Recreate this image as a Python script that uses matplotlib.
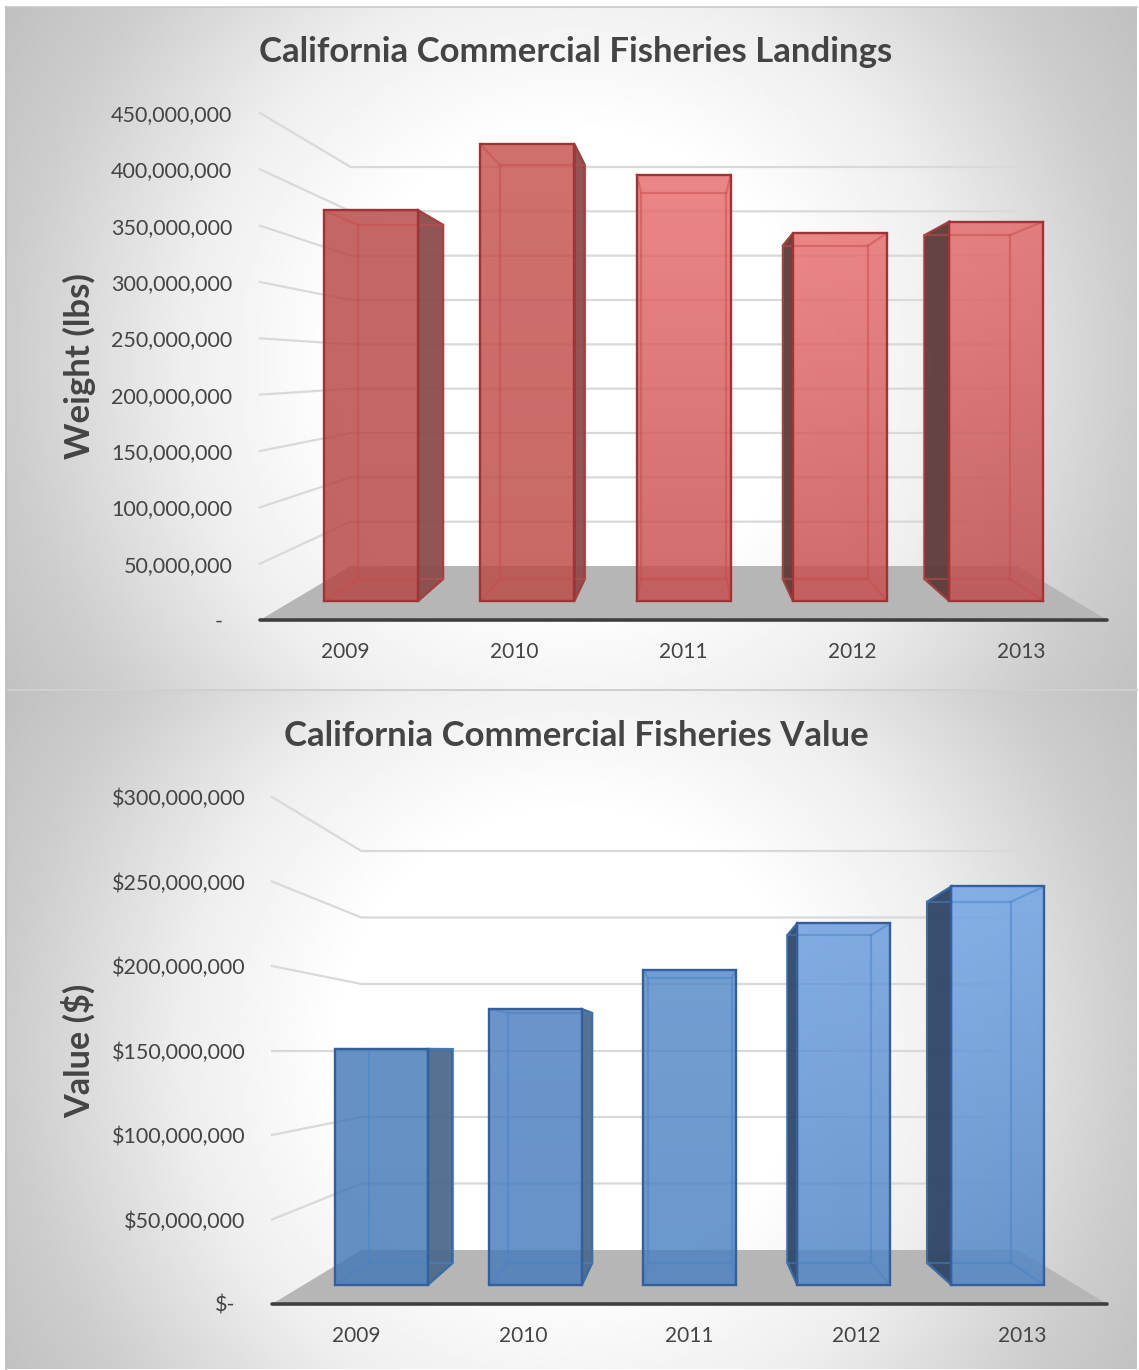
import numpy as np
import matplotlib
matplotlib.use("Agg")
import matplotlib.pyplot as plt
from matplotlib.patches import Polygon
from matplotlib.colors import LinearSegmentedColormap
from matplotlib.transforms import Affine2D

plt.rcParams["font.family"] = ["Lato", "DejaVu Sans"]

# ---- data ----
years = ["2009", "2010", "2011", "2012", "2013"]
landings_lbs = [375e6, 438.5e6, 409e6, 353e6, 364e6]
value_usd = [151e6, 176.5e6, 201.5e6, 231.5e6, 255e6]
landings_ticks = list(range(0, 450_000_001, 50_000_000))
value_ticks = list(range(0, 300_000_001, 50_000_000))
landings_tick_labels = ["-", "50,000,000", "100,000,000", "150,000,000", "200,000,000",
                        "250,000,000", "300,000,000", "350,000,000", "400,000,000", "450,000,000"]
value_tick_labels = ["$-", "$50,000,000", "$100,000,000", "$150,000,000",
                     "$200,000,000", "$250,000,000", "$300,000,000"]

W, H = 1139, 1370
fig = plt.figure(figsize=(W / 100, H / 100), dpi=100, facecolor="white")

TEXT = "#444444"
GRID = "#d9d9d9"
FLOOR = "#b6b6b6"
AXIS = "#3f3f3f"

# Depth model of the 3-D chart box, in axes fractions
IN_L, IN_R = 0.107, 0.106     # horizontal inset of the back wall
RISE = 0.1065                 # floor rise of the back wall
D_FRONT, D_BACK = 0.352, 0.76 # bar depth range inside the box
HALF_W = 0.0600               # half bar width, as a fraction of the axis
FACE_ALPHA = 0.82


def project(u, v, d, vmax):
    """Map (category position, value, depth) to data coordinates of the front plane."""
    x = IN_L * d + u * (1 - (IN_L + IN_R) * d)
    y = vmax * RISE * d + v * (1 - 2 * RISE * d)
    return x, y


def panel_background(top, bottom):
    """Radial grey-to-white fill behind one chart panel."""
    left, right = 6, 1137
    ax = fig.add_axes([left / W, 1 - bottom / H, (right - left) / W, (bottom - top) / H], zorder=0)
    yy, xx = np.mgrid[top:bottom:2, left:right:2]
    dist = np.hypot(xx - 571, yy - (top + 0.52 * (bottom - top)))
    grey = np.interp(dist, [0, 230, 390, 560, 700], [255, 255, 238, 205, 188]) / 255
    ax.imshow(grey, cmap="gray", vmin=0, vmax=1, aspect="auto", interpolation="bilinear")
    ax.axis("off")


def draw_chart(box, values, ticks, tick_labels, title, title_y, ylabel, palette):
    left, right, top, bottom = box
    ax = fig.add_axes([left / W, 1 - bottom / H, (right - left) / W, (bottom - top) / H],
                      zorder=2, facecolor="none")
    vmax = ticks[-1]
    ax.set_xlim(0, 1)
    ax.set_ylim(0, vmax)
    for s in ax.spines.values():
        s.set_visible(False)

    centers = [0.101 + 0.1995 * i for i in range(len(years))]
    ax.set_xticks(centers, years, fontsize=15, color=TEXT)
    ax.set_yticks(ticks, tick_labels, fontsize=15.5, color=TEXT)
    ax.tick_params(length=0, axis="y", pad=palette["ypad"])
    ax.tick_params(length=0, axis="x", pad=16)
    ax.set_ylabel(ylabel, fontsize=palette["label_size"], fontweight="bold", color=TEXT)
    ax.yaxis.set_label_coords((96 - left) / (right - left), 0.5)
    fig.text(576 / W, 1 - title_y / H, title, fontsize=25, fontweight="bold",
             color=TEXT, ha="center", va="center")

    # the zero label keeps the accounting format's trailing gap
    zero = ax.get_yticklabels()[0]
    zero.set_transform(zero.get_transform() + Affine2D().translate(-10, 0))

    # floor
    fl = [project(0, 0, 0, vmax), project(1, 0, 0, vmax), project(1, 0, 1, vmax), project(0, 0, 1, vmax)]
    ax.add_patch(Polygon(fl, closed=True, fc=FLOOR, ec="none", zorder=1, clip_on=False))

    # gridlines on the side and back walls
    for t in ticks[1:]:
        pts = [project(0, t, 0, vmax), project(0, t, 1, vmax), project(1, t, 1, vmax)]
        ax.plot(*zip(*pts), color=GRID, lw=1.6, zorder=1, clip_on=False)

    # baseline
    ax.plot([0, 1], [0, 0], color=AXIS, lw=2.6, solid_capstyle="round", zorder=2, clip_on=False)

    for i, (c, val) in enumerate(zip(centers, values)):
        z = 3 + i
        ul, ur = c - HALF_W, c + HALF_W
        fbl, fbr = project(ul, 0, D_FRONT, vmax), project(ur, 0, D_FRONT, vmax)
        ftl, ftr = project(ul, val, D_FRONT, vmax), project(ur, val, D_FRONT, vmax)
        bbl, bbr = project(ul, 0, D_BACK, vmax), project(ur, 0, D_BACK, vmax)
        btl, btr = project(ul, val, D_BACK, vmax), project(ur, val, D_BACK, vmax)

        # side wall that sticks out beyond the front face
        if c < 0.45:
            side = [ftr, btr, bbr, fbr]
        elif c > 0.55:
            side = [ftl, btl, bbl, fbl]
        else:
            side = None
        if side is not None:
            ax.add_patch(Polygon(side, closed=True, clip_on=False, zorder=z,
                                 fc=palette["side"][i], ec=palette["side_edge"], lw=1.5, alpha=0.95))

        # translucent front face, brightening towards the column top
        low, high = palette["faces"][i]
        cmap = LinearSegmentedColormap.from_list("face", [low, high])
        ramp = np.linspace(1, 0, 200).reshape(-1, 1)
        rgba = cmap(ramp)
        rgba[..., 3] = FACE_ALPHA
        front = Polygon([fbl, fbr, ftr, ftl], closed=True, fc="none", ec="none", transform=ax.transData)
        ax.add_patch(front)
        im = ax.imshow(rgba, extent=(fbl[0], fbr[0], fbl[1], ftl[1]), aspect="auto",
                       zorder=z + 0.1, interpolation="bilinear", origin="upper")
        im.set_clip_path(front)

        # rear edges seen through the translucent column
        for seg in ([bbl, bbr, btr, btl, bbl], [fbl, bbl], [fbr, bbr], [ftl, btl], [ftr, btr]):
            ax.plot(*zip(*seg), color=palette["inner"], lw=1.6, alpha=0.5, zorder=z + 0.2,
                    clip_on=False, solid_joinstyle="miter")

        ax.add_patch(Polygon([fbl, fbr, ftr, ftl], closed=True, fc="none", ec=palette["edge"],
                             lw=1.7, zorder=z + 0.3, clip_on=False))

    ax.set_xlim(0, 1)
    ax.set_ylim(0, vmax)
    return ax


panel_background(7, 689)
panel_background(690, 1369)

# panel borders
fig.add_artist(plt.Line2D([6 / W, 1137 / W], [1 - 7 / H, 1 - 7 / H], color="#c8c8c8", lw=1.2))
fig.add_artist(plt.Line2D([6 / W, 1137 / W], [1 - 689.5 / H, 1 - 689.5 / H], color="#cfcfcf", lw=1.4))
fig.add_artist(plt.Line2D([6 / W, 6 / W], [1 - 7 / H, 0], color="#bcbcbc", lw=1.2))

red = {
    "faces": [("#b64441", "#b94643"), ("#bc4844", "#c6514e"), ("#c64c4c", "#e86c6c"),
              ("#c64c4c", "#e86c6c"), ("#c04a4a", "#e36969")],
    "side": ["#8b4c4c", "#8c4b4b", "#000000", "#5f3a3a", "#5f3a3a"],
    "edge": "#a03434",
    "side_edge": "#7e2f2f",
    "inner": "#c84c4c",
    "ypad": 20,
    "label_size": 25,
}
blue = {
    "faces": [("#4378b7", "#457ab9"), ("#467bbc", "#4b7fc0"), ("#4a80c2", "#5489c8"),
              ("#4e85c6", "#679ade"), ("#4e85c6", "#6fa3e7")],
    "side": ["#4c6a8d", "#4c6a8d", "#000000", "#30476a", "#2e4565"],
    "edge": "#345f9c",
    "side_edge": "#2a5285",
    "inner": "#4a82c8",
    "ypad": 19,
    "label_size": 24.7,
}

draw_chart((260, 1107, 113, 620), landings_lbs, landings_ticks, landings_tick_labels,
           "California Commercial Fisheries Landings", 52, "Weight (lbs)", red)
draw_chart((272, 1107, 797, 1304), value_usd, value_ticks, value_tick_labels,
           "California Commercial Fisheries Value", 736, "Value ($)", blue)

fig.savefig("out.png", dpi=100)
